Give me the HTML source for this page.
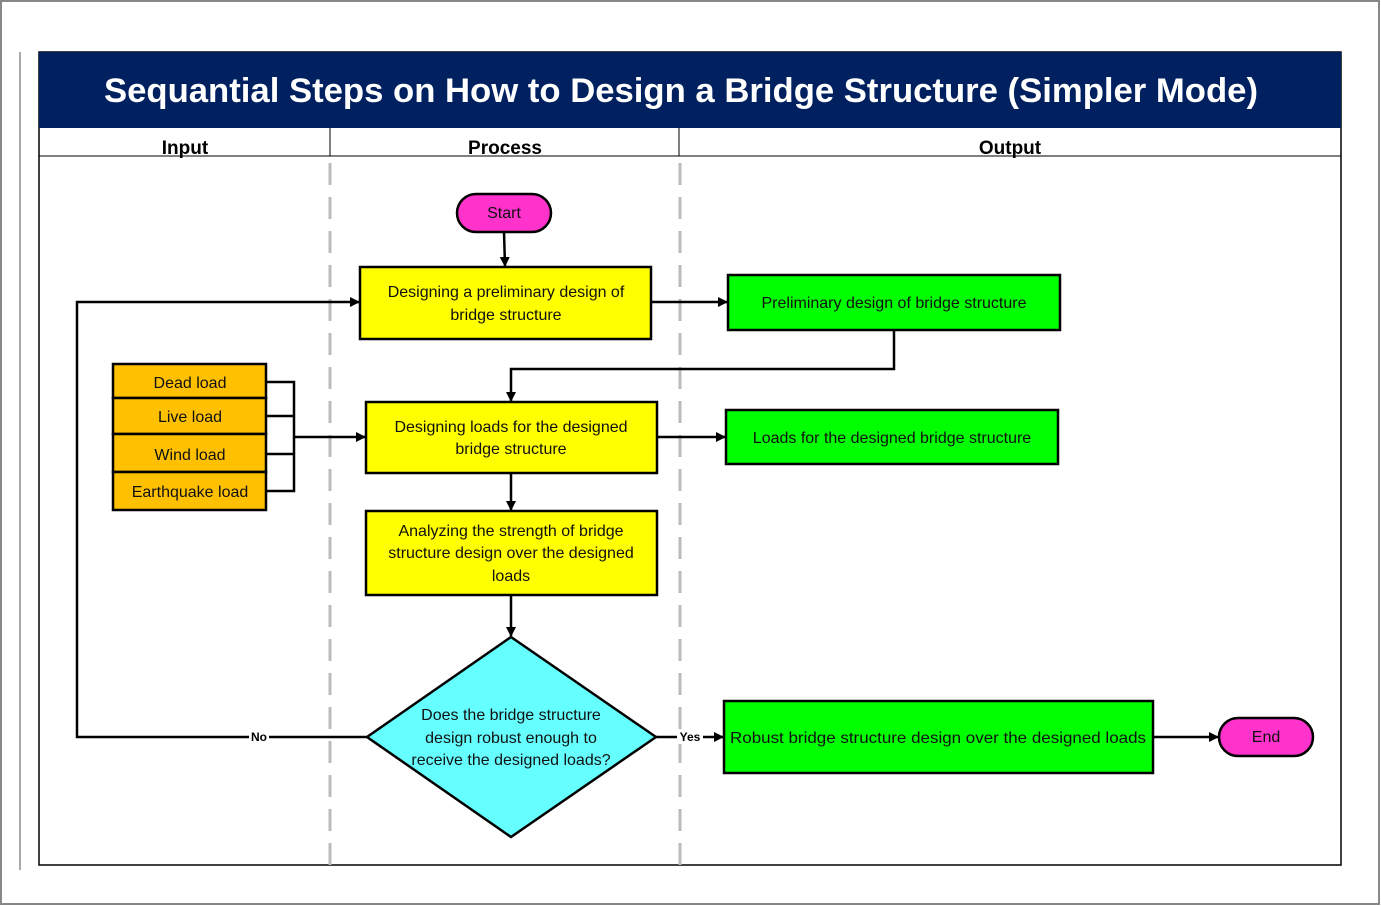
<!DOCTYPE html>
<html><head><meta charset="utf-8"><style>
html,body{margin:0;padding:0;background:#fff}
svg{display:block}
</style></head><body>
<svg width="1381" height="906" viewBox="0 0 1381 906" xmlns="http://www.w3.org/2000/svg" font-family="Liberation Sans, Arial, sans-serif">
<defs><marker id="a" markerWidth="10" markerHeight="10" refX="9" refY="5" orient="auto" markerUnits="userSpaceOnUse"><path d="M0,0 L10,5 L0,10 z" fill="#000"/></marker></defs>
<rect x="1" y="1" width="1378" height="903" fill="#fff" stroke="#888" stroke-width="2"/>
<line x1="20" y1="52" x2="20" y2="870" stroke="#aaa" stroke-width="2"/>
<rect x="39" y="52" width="1302" height="813" fill="#fff" stroke="#000" stroke-width="1.5"/>
<rect x="39" y="52" width="1302" height="76" fill="#002060"/>
<text x="681" y="102" fill="#fff" font-size="34" font-weight="bold" text-anchor="middle" textLength="1154" lengthAdjust="spacingAndGlyphs">Sequantial Steps on How to Design a Bridge Structure (Simpler Mode)</text>
<line x1="39" y1="156" x2="1341" y2="156" stroke="#000" stroke-width="1"/>
<line x1="330" y1="128" x2="330" y2="156" stroke="#000"/>
<line x1="679" y1="128" x2="679" y2="156" stroke="#000"/>
<g font-size="19" font-weight="bold" text-anchor="middle"><text x="185" y="154">Input</text><text x="505" y="154">Process</text><text x="1010" y="154">Output</text></g>
<g stroke="#bbb" stroke-width="3" stroke-dasharray="22,12"><line x1="330" y1="163" x2="330" y2="870"/><line x1="680" y1="163" x2="680" y2="870"/></g>
<g stroke="#000" stroke-width="2.5" fill="none">
<line x1="504" y1="232" x2="505" y2="266" marker-end="url(#a)"/>
<polyline points="367,737 77,737 77,302 359,302" marker-end="url(#a)"/>
<line x1="651" y1="302" x2="727" y2="302" marker-end="url(#a)"/>
<polyline points="894,331 894,369 511,369 511,401" marker-end="url(#a)"/>
<polyline points="266,382 294,382 294,491 266,491"/>
<line x1="266" y1="416" x2="294" y2="416"/><line x1="266" y1="454" x2="294" y2="454"/>
<line x1="294" y1="437" x2="365" y2="437" marker-end="url(#a)"/>
<line x1="657" y1="437" x2="725" y2="437" marker-end="url(#a)"/>
<line x1="511" y1="473" x2="511" y2="510" marker-end="url(#a)"/>
<line x1="511" y1="595" x2="511" y2="636" marker-end="url(#a)"/>
<line x1="656" y1="737" x2="723" y2="737" marker-end="url(#a)"/>
<line x1="1153" y1="737" x2="1218" y2="737" marker-end="url(#a)"/>
</g>
<rect x="249" y="729" width="20" height="15" fill="#fff"/><text x="259" y="741" font-size="12" font-weight="bold" text-anchor="middle">No</text>
<rect x="677" y="729" width="26" height="15" fill="#fff"/><text x="690" y="741" font-size="12" font-weight="bold" text-anchor="middle">Yes</text>
<g stroke="#000" stroke-width="2.5">
<rect x="457" y="194" width="94" height="38" rx="19" fill="#ff33cc"/>
<rect x="1219" y="718" width="94" height="38" rx="19" fill="#ff33cc"/>
<rect x="360" y="267" width="291" height="72" fill="#ffff00"/>
<rect x="366" y="402" width="291" height="71" fill="#ffff00"/>
<rect x="366" y="511" width="291" height="84" fill="#ffff00"/>
<rect x="728" y="275" width="332" height="55" fill="#00ff00"/>
<rect x="726" y="410" width="332" height="54" fill="#00ff00"/>
<rect x="724" y="701" width="429" height="72" fill="#00ff00"/>
<rect x="113" y="364" width="153" height="34" fill="#ffc000"/>
<rect x="113" y="398" width="153" height="36" fill="#ffc000"/>
<rect x="113" y="434" width="153" height="38" fill="#ffc000"/>
<rect x="113" y="472" width="153" height="38" fill="#ffc000"/>
<polygon points="511,637 656,737 511,837 367,737" fill="#66ffff"/>
</g>
<g font-size="16" text-anchor="middle" fill="#111">
<text x="504" y="218">Start</text><text x="1266" y="742">End</text>
<text x="506" y="297">Designing a preliminary design of</text><text x="506" y="320">bridge structure</text>
<text x="511" y="432">Designing loads for the designed</text><text x="511" y="454">bridge structure</text>
<text x="511" y="536">Analyzing the strength of bridge</text><text x="511" y="558">structure design over the designed</text><text x="511" y="581">loads</text>
<text x="894" y="308">Preliminary design of bridge structure</text>
<text x="892" y="443">Loads for the designed bridge structure</text>
<text x="938" y="743" textLength="416" lengthAdjust="spacingAndGlyphs">Robust bridge structure design over the designed loads</text>
<text x="190" y="388">Dead load</text><text x="190" y="422">Live load</text><text x="190" y="460">Wind load</text><text x="190" y="497">Earthquake load</text>
<text x="511" y="720">Does the bridge structure</text><text x="511" y="743">design robust enough to</text><text x="511" y="765">receive the designed loads?</text>
</g>
</svg>
</body></html>
